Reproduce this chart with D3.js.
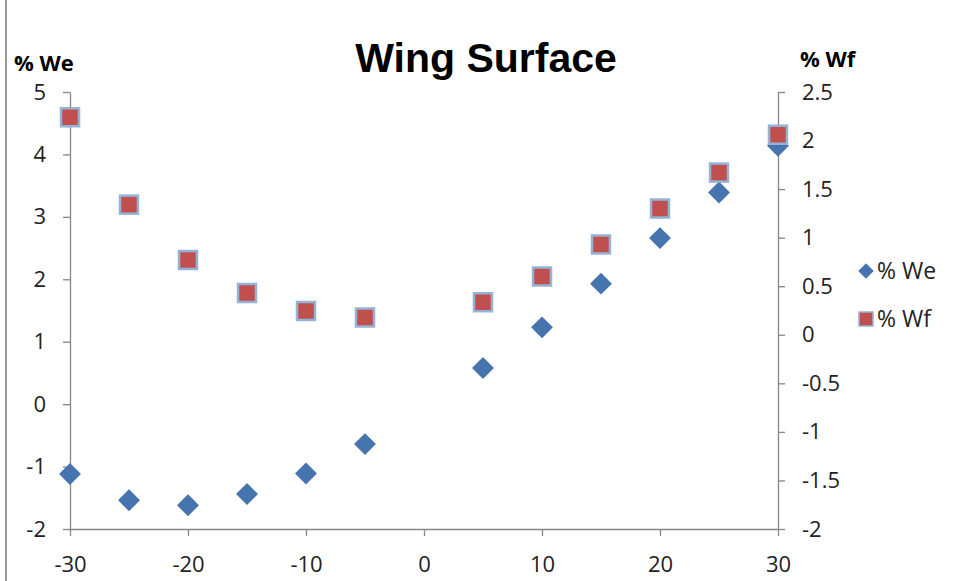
<!DOCTYPE html>
<html lang="en">
<head>
<meta charset="UTF-8">
<title>Wing Surface</title>
<script src="https://d3js.org/d3.v7.min.js"></script>
<style>
  body { margin: 0; background: #fff; }
  text { font-family: "Open Sans", "Liberation Sans", sans-serif; }
</style>
</head>
<body>
<script>
// data
var angles = [-30, -25, -20, -15, -10, -5, 5, 10, 15, 20, 25, 30];
var we = [-1.12, -1.54, -1.62, -1.44, -1.11, -0.64, 0.58, 1.23, 1.93, 2.66, 3.39, 4.14];
var wf = [2.24, 1.34, 0.77, 0.43, 0.245, 0.178, 0.335, 0.60, 0.93, 1.30, 1.67, 2.06];
var xTicks = [-30, -20, -10, 0, 10, 20, 30];
var leftTicks = [-2, -1, 0, 1, 2, 3, 4, 5];
var rightTicks = [-2, -1.5, -1, -0.5, 0, 0.5, 1, 1.5, 2, 2.5];
var seriesNames = ["% We", "% Wf"];

var width = 955, height = 581;
var plotLeft = 70, plotRight = 778, plotTop = 92, plotBottom = 529;
var axisColor = "#868686";
var blue = "#4674AF", red = "#C0504D", border = "#95B3D7";

var svg = d3.select("body").append("svg")
    .attr("width", width)
    .attr("height", height);

// chart frame edge on the left
svg.append("line")
    .attr("x1", 6).attr("x2", 6).attr("y1", 0).attr("y2", height)
    .attr("stroke", "#9a9a9a").attr("stroke-width", 2);

var x = d3.scaleLinear().domain([-30, 30]).range([plotLeft, plotRight]);
var yL = d3.scaleLinear().domain([-2, 5]).range([plotBottom, plotTop]);
var yR = d3.scaleLinear().domain([-2, 2.5]).range([plotBottom, plotTop]);

// plain hyphen for negatives, like the original
var fmt = function (d) { return String(d); };

function styleAxis(g) {
    g.select(".domain").attr("stroke", axisColor).attr("stroke-width", 1.3);
    g.selectAll(".tick line").attr("stroke", axisColor).attr("stroke-width", 1.3);
    g.selectAll(".tick text")
        .attr("fill", "#222")
        .style("font-family", "'Open Sans', sans-serif")
        .style("font-size", "22px");
}

svg.append("g")
    .attr("transform", "translate(0," + plotBottom + ")")
    .call(d3.axisBottom(x).tickValues(xTicks).tickSize(7).tickSizeOuter(0).tickPadding(20).tickFormat(fmt))
    .call(styleAxis);

svg.append("g")
    .attr("transform", "translate(" + plotLeft + ",0)")
    .call(d3.axisLeft(yL).tickValues(leftTicks).tickSize(7).tickSizeOuter(0).tickPadding(17).tickFormat(fmt))
    .call(styleAxis);

svg.append("g")
    .attr("transform", "translate(" + plotRight + ",0)")
    .call(d3.axisRight(yR).tickValues(rightTicks).tickSize(7).tickSizeOuter(0).tickPadding(17).tickFormat(fmt))
    .call(styleAxis);

// title and axis titles
svg.append("text")
    .attr("x", 486).attr("y", 72)
    .attr("text-anchor", "middle")
    .style("font-family", "'Liberation Sans', Arial, sans-serif")
    .style("font-weight", "bold")
    .style("font-size", "41px")
    .text("Wing Surface");

svg.append("text")
    .attr("x", 14).attr("y", 71)
    .style("font-weight", "bold").style("font-size", "22px")
    .text("% We");

svg.append("text")
    .attr("x", 800).attr("y", 67)
    .style("font-weight", "bold").style("font-size", "22px")
    .text("% Wf");

var diamond = d3.symbol().type(d3.symbolSquare).size(240);

// % We diamonds
svg.append("g").selectAll("path")
    .data(angles)
    .enter()
    .append("path")
    .attr("d", diamond)
    .attr("transform", function (d, i) {
        return "translate(" + x(d) + "," + yL(we[i]) + ") rotate(45)";
    })
    .attr("fill", blue);

// % Wf squares
var sq = 18;
svg.append("g").selectAll("rect")
    .data(angles)
    .enter()
    .append("rect")
    .attr("x", function (d) { return x(d) - sq / 2; })
    .attr("y", function (d, i) { return yR(wf[i]) - sq / 2; })
    .attr("width", sq)
    .attr("height", sq)
    .attr("fill", red)
    .attr("stroke", border)
    .attr("stroke-width", 2.5);

// legend
var legend = svg.append("g");
legend.append("path")
    .attr("d", d3.symbol().type(d3.symbolSquare).size(120))
    .attr("transform", "translate(866,271) rotate(45)")
    .attr("fill", blue);
legend.append("rect")
    .attr("x", 859).attr("y", 312).attr("width", 14).attr("height", 14)
    .attr("fill", red).attr("stroke", border).attr("stroke-width", 1.5);
legend.selectAll("text")
    .data(seriesNames)
    .enter()
    .append("text")
    .attr("x", 877)
    .attr("y", function (d, i) { return 279 + i * 48; })
    .attr("fill", "#222")
    .style("font-size", "23px")
    .text(function (d) { return d; });
</script>
</body>
</html>
